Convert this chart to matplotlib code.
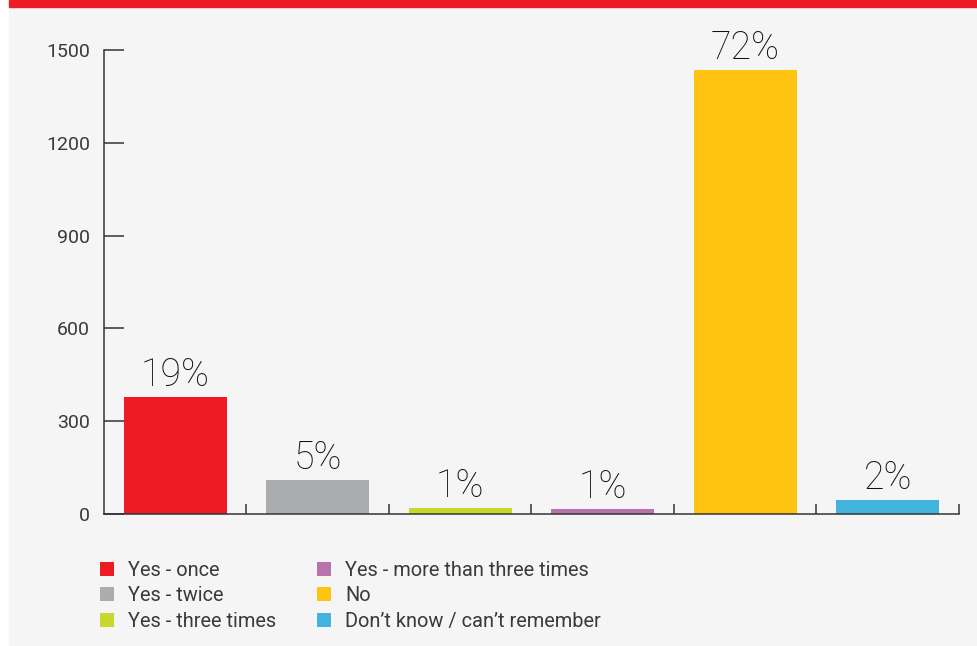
import matplotlib
matplotlib.use("Agg")
import matplotlib.pyplot as plt
from matplotlib.patches import Patch, Rectangle

categories = [
    "Yes - once",
    "Yes - twice",
    "Yes - three times",
    "Yes - more than three times",
    "No",
    "Don\u2019t know / can\u2019t remember",
]
counts = [378, 110, 20, 16, 1435, 45]
pct_labels = ["19%", "5%", "1%", "1%", "72%", "2%"]
colors = ["#ED1C24", "#ABACAF", "#C9D62B", "#B872AE", "#FFC312", "#41B3DC"]
yticks = [0, 300, 600, 900, 1200, 1500]

W, H = 978, 646
plt.rcParams["font.family"] = ["Roboto", "DejaVu Sans"]

fig = plt.figure(figsize=(W / 100, H / 100), dpi=100, facecolor="white")
# page background + red band on top
fig.patches.append(Rectangle((9 / W, 1 / H), 1 - 9 / W, 1 - 8 / H,
                             transform=fig.transFigure, color="#F5F5F5", zorder=-10))
fig.patches.append(Rectangle((9 / W, 1 - 7 / H), 1 - 9 / W, 7 / H,
                             transform=fig.transFigure, color="#ED1C24", zorder=-9))

ax = fig.add_axes([104 / W, 1 - 514 / H, (959 - 104) / W, (514 - 50) / H])
ax.set_facecolor("none")

x = list(range(len(categories)))
ax.bar(x, counts, width=0.72, color=colors, zorder=2)
for xi, c, lab in zip(x, counts, pct_labels):
    ax.annotate(lab, (xi, c), xytext=(0, 8), textcoords="offset points",
                ha="center", va="baseline", fontsize=27, color="#111111",
                fontweight="light", annotation_clip=False)

ax.set_xlim(-0.5, len(categories) - 0.5)
ax.set_ylim(0, 1500)
ax.set_yticks(yticks)
ax.set_yticklabels([str(v) for v in yticks])
ax.tick_params(axis="y", direction="in", length=14.5, width=1.1, pad=10,
               labelsize=14, labelcolor="#3a3a3a", color="#333333")
ax.set_xticks(x)
ax.set_xticklabels([])
ax.tick_params(axis="x", which="major", length=0)
ax.set_xticks([i + 0.5 for i in x], minor=True)
ax.tick_params(axis="x", which="minor", direction="in", length=7.5, width=1.1,
               color="#333333")

for s in ["top", "right"]:
    ax.spines[s].set_visible(False)
for s in ["left", "bottom"]:
    ax.spines[s].set_color("#333333")
    ax.spines[s].set_linewidth(1.1)

handles = [Patch(facecolor=c, edgecolor="none") for c in colors]
leg = fig.legend(handles, categories, loc="upper left",
                 bbox_to_anchor=(100 / W, 1 - 561 / H), ncol=2, frameon=False,
                 fontsize=14.4, handlelength=0.7, handleheight=0.7,
                 handletextpad=0.72, columnspacing=2.0, labelspacing=0.315,
                 borderpad=0, borderaxespad=0)
for t in leg.get_texts():
    t.set_color("#3a3a3a")

fig.savefig("out.png", dpi=100, facecolor=fig.get_facecolor())
